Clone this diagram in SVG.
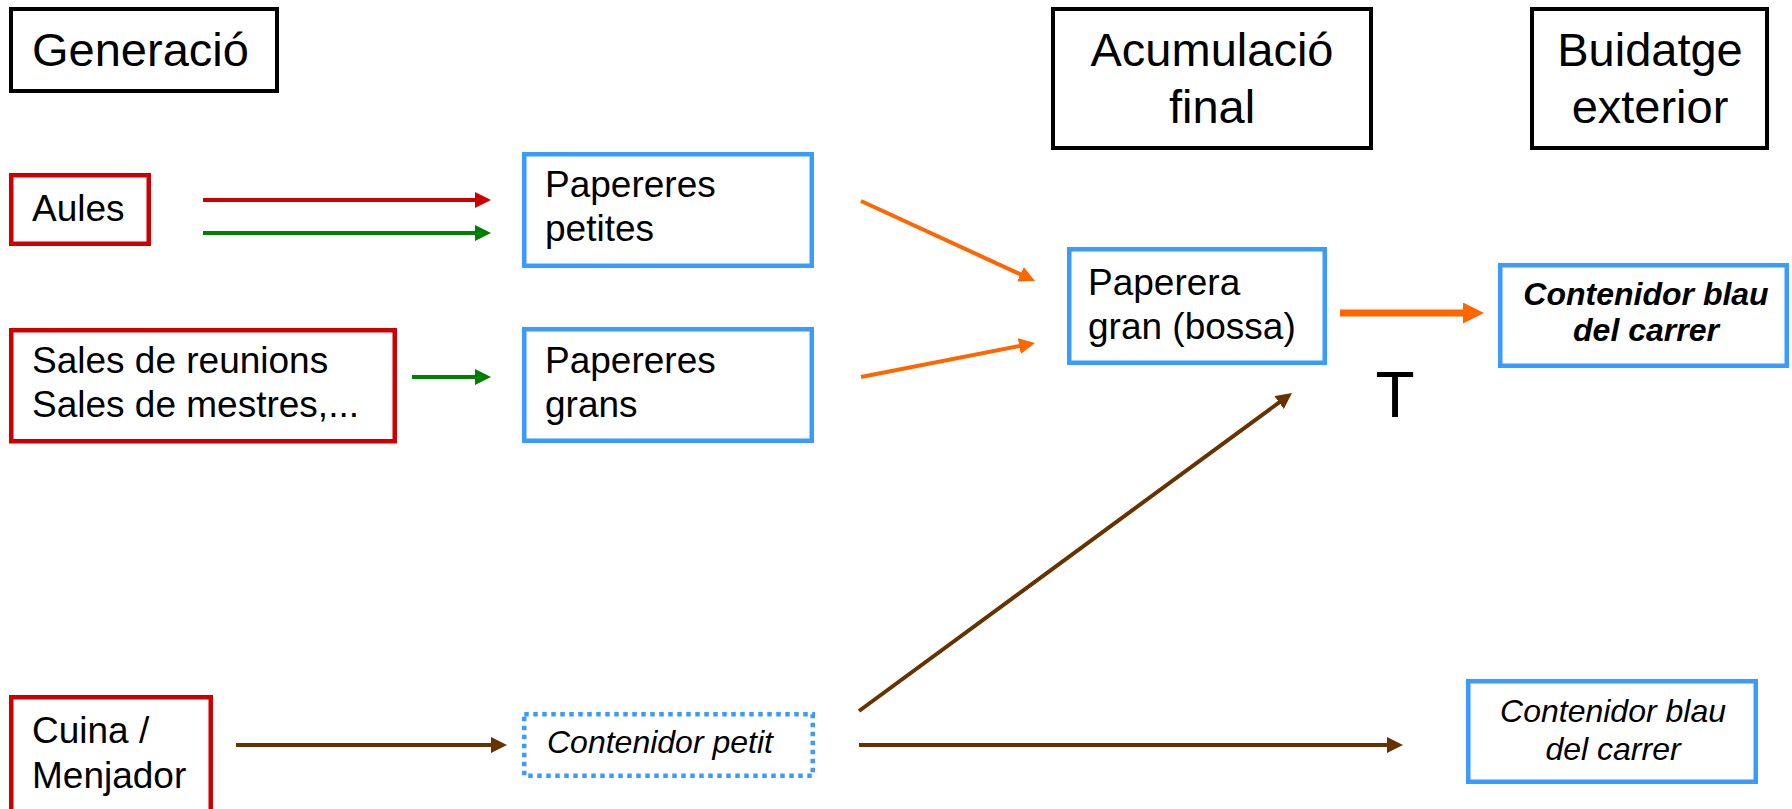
<svg xmlns="http://www.w3.org/2000/svg" width="1792" height="809" viewBox="0 0 1792 809">
<style>
.hdr{fill:none;stroke:#000;stroke-width:4}
.src{fill:none;stroke:#CC0000;stroke-width:4.5}
.bin{fill:none;stroke:#3A9BFF;stroke-width:4.5}
.dot{fill:none;stroke:#3A9BFF;stroke-width:4.5;stroke-dasharray:4.5 4.5}
text{font-family:"Liberation Sans",Arial,sans-serif;fill:#000}
.h{font-size:47px}
.t{font-size:37px}
.i{font-size:32px;font-style:italic}
.bi{font-size:32px;font-style:italic;font-weight:bold}
.mid{text-anchor:middle}
.red{stroke:#CC0000;stroke-width:4;fill:none}
.grn{stroke:#008000;stroke-width:4;fill:none}
.org{stroke:#FF6600;stroke-width:4;fill:none}
.orgT{stroke:#FF6600;stroke-width:7;fill:none}
.brn{stroke:#663300;stroke-width:4;fill:none}
</style>
<defs>
<marker id="aR" markerUnits="userSpaceOnUse" markerWidth="16" markerHeight="16" viewBox="0 0 16 16" refX="4" refY="8" orient="auto"><path d="M0,0 L16,8 L0,16 z" fill="#CC0000"/></marker>
<marker id="aG" markerUnits="userSpaceOnUse" markerWidth="16" markerHeight="16" viewBox="0 0 16 16" refX="4" refY="8" orient="auto"><path d="M0,0 L16,8 L0,16 z" fill="#008000"/></marker>
<marker id="aO" markerUnits="userSpaceOnUse" markerWidth="16" markerHeight="16" viewBox="0 0 16 16" refX="4" refY="8" orient="auto"><path d="M0,0 L16,8 L0,16 z" fill="#FF6600"/></marker>
<marker id="aOT" markerUnits="userSpaceOnUse" markerWidth="21" markerHeight="21" viewBox="0 0 21 21" refX="5" refY="10.5" orient="auto"><path d="M0,0 L21,10.5 L0,21 z" fill="#FF6600"/></marker>
<marker id="aB" markerUnits="userSpaceOnUse" markerWidth="16" markerHeight="16" viewBox="0 0 16 16" refX="4" refY="8" orient="auto"><path d="M0,0 L16,8 L0,16 z" fill="#663300"/></marker>
</defs>
<rect width="1792" height="809" fill="#fff"/>

<g id="hdr-generacio"><rect class="hdr" x="11" y="9" width="266" height="82"/><text class="h" x="32" y="66">Generació</text></g>
<g id="hdr-acumulacio"><rect class="hdr" x="1053" y="9" width="318" height="139"/><text class="h mid" x="1212" y="66">Acumulació</text><text class="h mid" x="1212" y="123">final</text></g>
<g id="hdr-buidatge"><rect class="hdr" x="1532" y="9" width="235" height="139"/><text class="h mid" x="1650" y="66">Buidatge</text><text class="h mid" x="1650" y="123">exterior</text></g>

<g id="aules"><rect class="src" x="11.25" y="175.25" width="137.5" height="68.5"/><text class="t" x="32" y="221">Aules</text></g>
<g id="sales"><rect class="src" x="11.25" y="330.25" width="383.5" height="111"/><text class="t" x="32" y="373">Sales de reunions</text><text class="t" x="32" y="417">Sales de mestres,...</text></g>
<g id="cuina"><rect class="src" x="11.25" y="697.25" width="199.5" height="120"/><text class="t" x="32" y="743">Cuina /</text><text class="t" x="32" y="788">Menjador</text></g>

<g id="papereres-petites"><rect class="bin" x="524.25" y="154.25" width="287.5" height="111.5"/><text class="t" x="545" y="197">Papereres</text><text class="t" x="545" y="241">petites</text></g>
<g id="papereres-grans"><rect class="bin" x="524.25" y="329.25" width="287.5" height="111.5"/><text class="t" x="545" y="373">Papereres</text><text class="t" x="545" y="417">grans</text></g>
<g id="contenidor-petit"><rect class="dot" x="524.25" y="714.25" width="288.5" height="61.5"/><text class="i" x="547" y="753">Contenidor petit</text></g>

<g id="paperera-gran"><rect class="bin" x="1069.25" y="249.25" width="255.5" height="113.5"/><text class="t" x="1088" y="295">Paperera</text><text class="t" x="1088" y="339">gran (bossa)</text></g>

<g id="contenidor-blau-1"><rect class="bin" x="1500.25" y="265.25" width="286.5" height="100.5"/><text class="bi mid" x="1646" y="305">Contenidor blau</text><text class="bi mid" x="1646" y="341">del carrer</text></g>
<g id="contenidor-blau-2"><rect class="bin" x="1468.25" y="681.25" width="287.5" height="100.5"/><text class="i mid" x="1613" y="722">Contenidor blau</text><text class="i mid" x="1613" y="760">del carrer</text></g>

<g id="label-t"><text x="1395" y="417" font-size="64" text-anchor="middle">T</text></g>

<g id="connectors">
<line class="red" x1="203" y1="200" x2="479" y2="200" marker-end="url(#aR)"/>
<line class="grn" x1="203" y1="233" x2="479" y2="233" marker-end="url(#aG)"/>
<line class="grn" x1="412" y1="377" x2="479" y2="377" marker-end="url(#aG)"/>
<line class="org" x1="861" y1="201" x2="1024.1" y2="276" marker-end="url(#aO)"/>
<line class="org" x1="861" y1="377" x2="1023.2" y2="345.3" marker-end="url(#aO)"/>
<line class="orgT" x1="1340" y1="313" x2="1468" y2="313" marker-end="url(#aOT)"/>
<line class="brn" x1="236" y1="745" x2="495" y2="745" marker-end="url(#aB)"/>
<line class="brn" x1="859" y1="745" x2="1391" y2="745" marker-end="url(#aB)"/>
<line class="brn" x1="859" y1="711" x2="1282.3" y2="400.1" marker-end="url(#aB)"/>
</g>
</svg>
